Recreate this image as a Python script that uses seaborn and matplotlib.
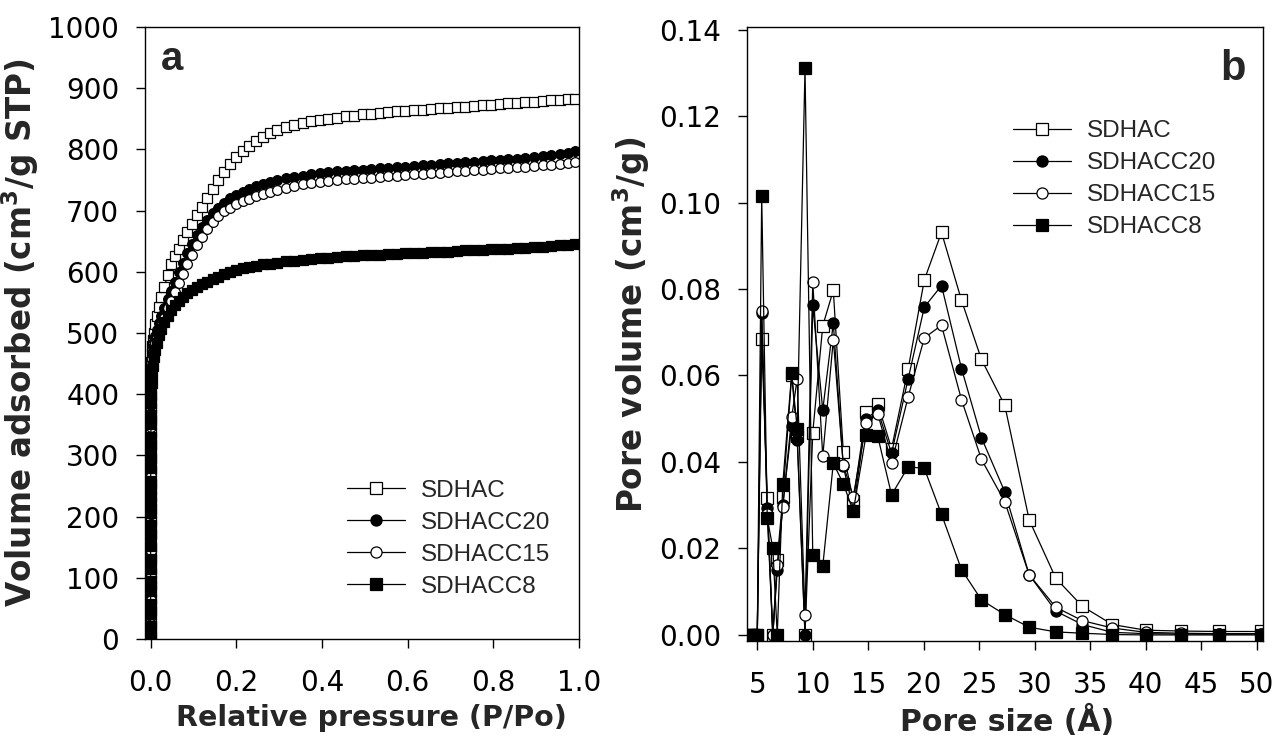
import numpy as np
import pandas as pd
import matplotlib
matplotlib.use("Agg")
import matplotlib.pyplot as plt
import seaborn as sns

# ---------------- (a) N2 adsorption isotherms ----------------
p_rel = [
    0.000001, 0.000003, 0.000006, 0.00001, 0.000015, 0.00002, 0.00003, 0.00004, 0.00005,
    0.00007, 0.00009, 0.00012, 0.00015, 0.0002, 0.00026, 0.00033, 0.00042, 0.00055,
    0.0007, 0.0009, 0.0012, 0.0016, 0.0021, 0.0028, 0.0037, 0.005, 0.007,
    0.010, 0.014, 0.019, 0.025, 0.032, 0.040, 0.048, 0.057, 0.066, 0.076, 0.086, 0.097,
    0.108, 0.120, 0.132, 0.145, 0.158, 0.172, 0.186, 0.200, 0.215, 0.230, 0.246, 0.262,
    0.279, 0.296,
    0.315, 0.335, 0.355, 0.375, 0.395, 0.415, 0.435, 0.455, 0.475, 0.495, 0.515, 0.535,
    0.555, 0.575, 0.595, 0.615, 0.635, 0.655, 0.675, 0.695, 0.715, 0.735, 0.755, 0.775,
    0.795, 0.815, 0.835, 0.855, 0.875, 0.895, 0.915, 0.935, 0.955, 0.975, 0.990,
]

v_sdhac = [
    6, 25, 46, 66, 88, 107, 130, 149, 171, 192, 212, 234, 254, 275, 296, 317, 337, 357,
    377, 397, 417, 436, 452, 466, 478, 489, 500,
    515, 528, 542, 558, 575, 595, 612, 625, 638, 652, 665, 678, 692, 706, 720, 736, 750,
    763, 776, 787, 797, 806, 814, 821, 827, 832,
    836, 840, 843, 846, 848, 850, 852, 854, 855, 857, 858, 859, 861, 862, 863, 864, 865,
    866, 867, 868, 869, 870, 871, 872, 873, 874, 875, 876, 877, 878, 879, 880, 881, 882, 883,
]

v_sdhacc20 = [
    5, 24, 45, 64, 85, 105, 127, 146, 168, 188, 208, 229, 249, 270, 290, 311, 330, 350,
    370, 390, 409, 427, 443, 456, 467, 477, 487,
    495, 505, 516, 527, 540, 555, 569, 584, 599, 615, 631, 646, 660, 673, 685, 696, 705,
    713, 720, 726, 731, 736, 740, 744, 747, 750,
    753, 755, 757, 759, 761, 763, 764, 765, 766, 767, 768, 769, 770, 771, 772, 773, 774,
    775, 776, 777, 778, 779, 780, 781, 782, 783, 784, 785, 786, 787, 789, 790, 792, 794, 797,
]

v_sdhacc15 = [
    5, 24, 44, 63, 84, 103, 125, 144, 165, 185, 205, 226, 246, 266, 287, 307, 326, 346,
    366, 385, 404, 421, 436, 448, 458, 467, 476,
    483, 492, 502, 512, 525, 540, 553, 567, 582, 597, 613, 628, 643, 657, 670, 682, 691,
    699, 705, 710, 715, 719, 723, 727, 731, 734,
    737, 740, 743, 745, 747, 749, 750, 751, 752, 753, 754, 755, 756, 757, 758, 759, 760,
    761, 762, 763, 764, 765, 766, 767, 768, 769, 770, 771, 772, 773, 774, 775, 776, 777, 779,
]

v_sdhacc8 = [
    4, 21, 41, 57, 78, 94, 115, 131, 152, 170, 187, 206, 224, 243, 258, 279, 296, 314,
    330, 351, 366, 386, 401, 419, 434, 446, 461,
    472, 484, 496, 507, 518, 528, 537, 545, 552, 559, 565, 570, 575, 580, 584, 588, 592,
    597, 600, 603, 606, 608, 610, 612, 613, 615,
    617, 618, 620, 621, 622, 623, 624, 625, 626, 627, 627, 628, 629, 629, 630, 631, 631,
    632, 633, 633, 634, 635, 635, 636, 637, 637, 638, 639, 639, 640, 641, 642, 643, 644, 646,
]

# ---------------- (b) pore size distributions ----------------
pore_size = [
    4.3, 4.65, 5.0, 5.4, 5.9, 6.4, 6.8, 7.3, 8.1, 8.6, 9.3, 10.0, 10.9, 11.85, 12.75,
    13.65, 14.8, 15.85, 17.1, 18.6, 20.05, 21.6, 23.4, 25.2, 27.3, 29.5, 31.9, 34.3,
    37.0, 40.0, 43.2, 46.6, 50.4,
]

pv_sdhac = [
    0.0, 0.0, 0.0, 0.0685, 0.0316, 0.0, 0.0174, 0.0318, 0.0600, 0.0460, 0.0, 0.0468,
    0.0715, 0.0797, 0.0424, 0.0310, 0.0515, 0.0535, 0.0431, 0.0616, 0.0821, 0.0931,
    0.0774, 0.0637, 0.0531, 0.0266, 0.0131, 0.0066, 0.0024, 0.0011, 0.0009, 0.0008, 0.0008,
]

pv_sdhacc20 = [
    0.0, 0.0, 0.0, 0.0745, 0.0293, 0.0, 0.0150, 0.0300, 0.0484, 0.0450, 0.0, 0.0762,
    0.0520, 0.0721, 0.0390, 0.0290, 0.0500, 0.0520, 0.0420, 0.0593, 0.0758, 0.0808,
    0.0616, 0.0456, 0.0331, 0.0139, 0.0055, 0.0024, 0.0006, 0.0003, 0.0002, 0.0002, 0.0002,
]

pv_sdhacc15 = [
    0.0, 0.0, 0.0, 0.0748, 0.0280, 0.0, 0.0162, 0.0297, 0.0503, 0.0593, 0.0045, 0.0816,
    0.0413, 0.0683, 0.0393, 0.0320, 0.0490, 0.0512, 0.0398, 0.0551, 0.0687, 0.0716,
    0.0544, 0.0406, 0.0308, 0.0139, 0.0064, 0.0033, 0.0016, 0.0006, 0.0004, 0.0003, 0.0003,
]

pv_sdhacc8 = [
    0.0, 0.0, 0.0, 0.1014, 0.0270, 0.0201, 0.0, 0.0350, 0.0605, 0.0477, 0.1310, 0.0184,
    0.0159, 0.0397, 0.0350, 0.0286, 0.0462, 0.0460, 0.0324, 0.0389, 0.0385, 0.0279,
    0.0151, 0.0081, 0.0047, 0.0018, 0.0007, 0.0004, 0.0001, 0.0, 0.0, 0.0, 0.0,
]

sample_names = ["SDHAC", "SDHACC20", "SDHACC15", "SDHACC8"]
marker_shapes = ["s", "o", "o", "s"]
marker_faces = ["white", "black", "white", "black"]

iso = pd.DataFrame({"p": p_rel, "SDHAC": v_sdhac, "SDHACC20": v_sdhacc20,
                    "SDHACC15": v_sdhacc15, "SDHACC8": v_sdhacc8})
psd = pd.DataFrame({"d": pore_size, "SDHAC": pv_sdhac, "SDHACC20": pv_sdhacc20,
                    "SDHACC15": pv_sdhacc15, "SDHACC8": pv_sdhacc8})

sns.set_theme(style="ticks")
plt.rcParams["font.family"] = ["DejaVu Sans"]
plt.rcParams["mathtext.fontset"] = "dejavusans"
plt.rcParams["axes.linewidth"] = 1.0
plt.rcParams["xtick.major.width"] = 1.0
plt.rcParams["ytick.major.width"] = 1.0
plt.rcParams["xtick.major.size"] = 6.5
plt.rcParams["ytick.major.size"] = 6.5
plt.rcParams["xtick.color"] = "black"
plt.rcParams["ytick.color"] = "black"
plt.rcParams["axes.edgecolor"] = "black"

fig = plt.figure(figsize=(12.81, 7.47), dpi=100)
ax1 = fig.add_axes([0.1132, 0.1446, 0.3388, 0.8193])
ax2 = fig.add_axes([0.5831, 0.1419, 0.4028, 0.8220])

for name, mk, fc in zip(sample_names, marker_shapes, marker_faces):
    sns.lineplot(data=iso, x="p", y=name, ax=ax1, estimator=None, sort=False,
                 color="black", linewidth=0.9, marker=mk, markersize=7,
                 markerfacecolor=fc, markeredgecolor="black", markeredgewidth=0.9,
                 label=name)
    sns.lineplot(data=psd, x="d", y=name, ax=ax2, estimator=None, sort=False,
                 color="black", linewidth=0.9, marker=mk, markersize=8,
                 markerfacecolor=fc, markeredgecolor="black", markeredgewidth=0.9,
                 label=name)

tick_font = 20
xlabel_font = dict(fontsize=20.5, fontweight="bold", family="DejaVu Sans")
ylabel_font = dict(fontsize=23.5, fontweight="bold", family="DejaVu Sans")

# panel (a) axes
ax1.set_xlim(-0.013, 1.0)
ax1.set_ylim(0, 1000)
ax1.set_xticks([0.0, 0.2, 0.4, 0.6, 0.8, 1.0])
ax1.set_xticklabels(["0.0", "0.2", "0.4", "0.6", "0.8", "1.0"])
ax1.set_yticks(range(0, 1001, 100))
ax1.set_xlabel("Relative pressure (P/Po)", **xlabel_font)
ax1.set_ylabel(r"Volume adsorbed (cm$^{\mathbf{3}}$/g STP)", **ylabel_font)
ax1.xaxis.set_label_coords(0.522, -0.107)
ax1.yaxis.set_label_coords(-0.24, 0.5)
ax1.text(0.036, 0.9297, "a", transform=ax1.transAxes, fontsize=29, fontweight="bold",
         family="Liberation Sans", va="baseline", ha="left")

# panel (b) axes
ax2.set_xlim(4.07, 50.56)
ax2.set_ylim(-0.0014, 0.1406)
ax2.set_xticks(range(5, 51, 5))
ax2.set_yticks([0.0, 0.02, 0.04, 0.06, 0.08, 0.10, 0.12, 0.14])
ax2.set_yticklabels(["0.00", "0.02", "0.04", "0.06", "0.08", "0.10", "0.12", "0.14"])
ax2.set_xlabel("Pore size (\u00c5)", fontsize=21.5, fontweight="bold", family="DejaVu Sans")
ax2.set_ylabel(r"Pore volume (cm$^{\mathbf{3}}$/g)", **ylabel_font)
ax2.xaxis.set_label_coords(0.504, -0.1034)
ax2.yaxis.set_label_coords(-0.184, 0.515)
ax2.text(0.966, 0.9137, "b", transform=ax2.transAxes, fontsize=30, fontweight="bold",
         family="Liberation Sans", va="baseline", ha="right")

for ax in (ax1, ax2):
    ax.tick_params(axis="both", which="major", direction="out", labelsize=tick_font,
                   top=False, right=False)
    ax.tick_params(axis="x", pad=15)
    ax.tick_params(axis="y", pad=12)
    for side in ("top", "right", "bottom", "left"):
        ax.spines[side].set_visible(True)
        ax.spines[side].set_color("black")

leg_kw = dict(frameon=False, prop={"family": "Liberation Sans", "size": 17.5},
              handlelength=2.4, handletextpad=0.62, labelspacing=0.41, borderpad=0,
              borderaxespad=0)
ax1.legend(loc="center left", bbox_to_anchor=(0.2709, 0.2789),
           bbox_transform=fig.transFigure, markerscale=8 / 7, **leg_kw)
ax2.legend(loc="center left", bbox_to_anchor=(0.7908, 0.7601),
           bbox_transform=fig.transFigure, markerscale=1.0, **leg_kw)

fig.savefig("out.png", dpi=100)
